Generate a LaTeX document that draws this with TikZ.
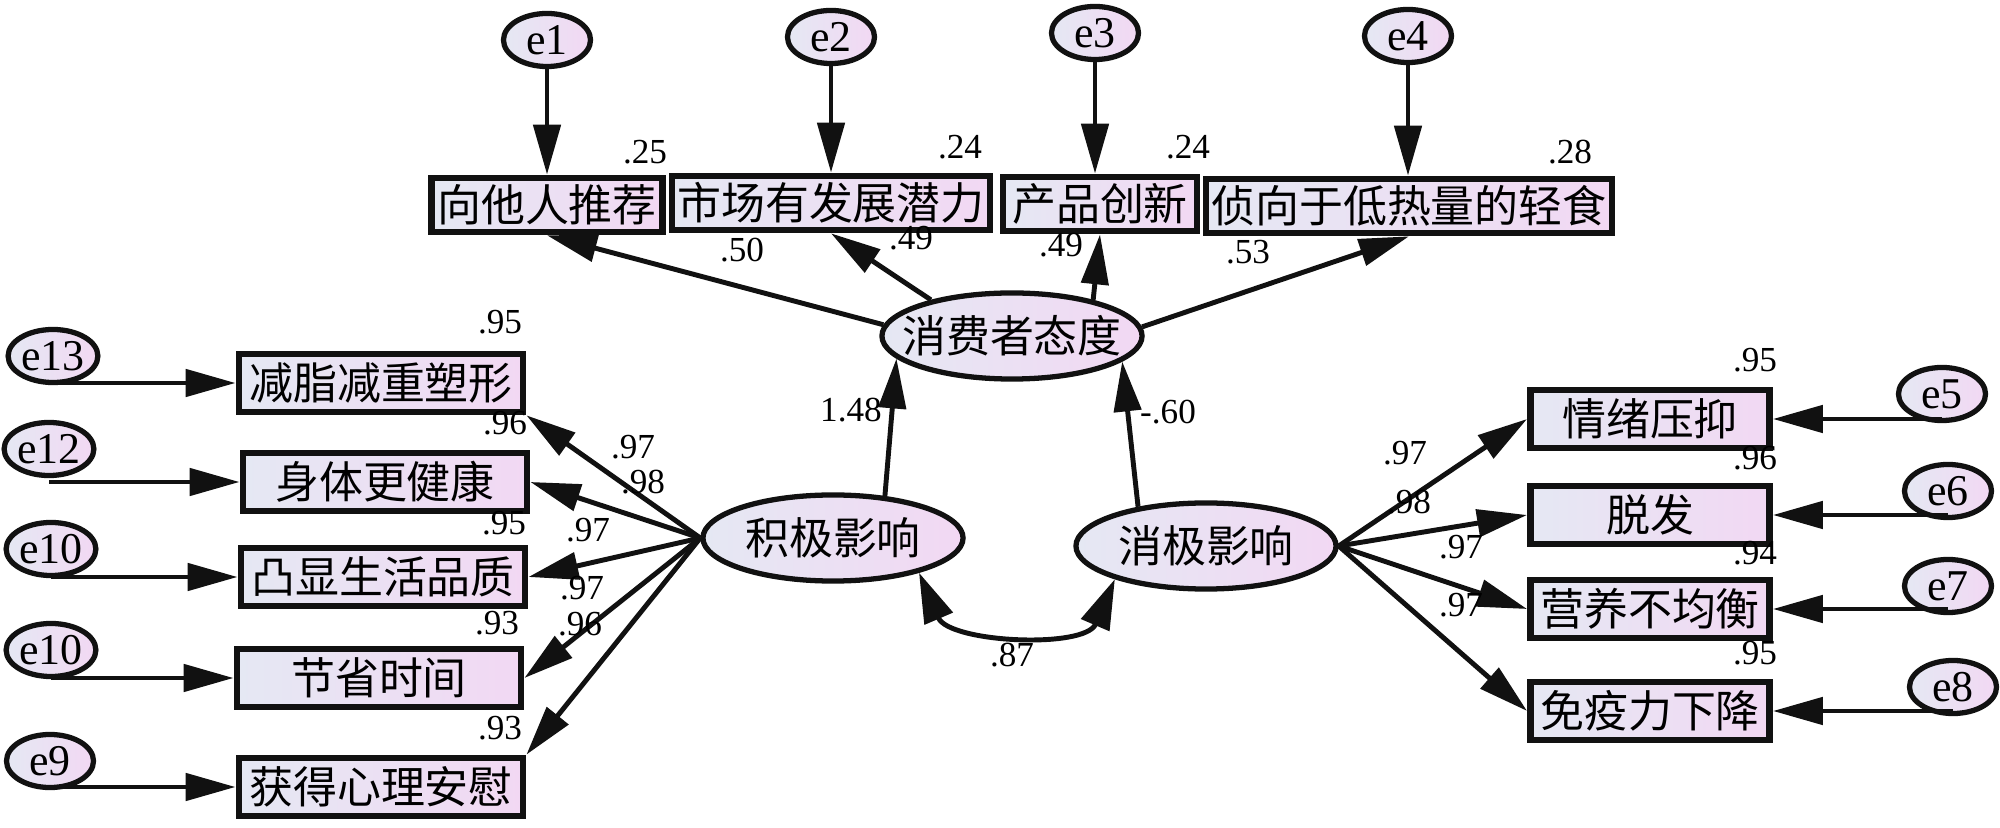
\documentclass[tikz,border=0pt]{standalone}
\usepackage{fontspec}
\setmainfont{Liberation Serif}
\newfontfamily\cjk{Noto Sans CJK SC}
\usepackage{tikz}
\usetikzlibrary{arrows.meta,shapes.geometric}
\definecolor{ink}{HTML}{111111}
\definecolor{fillL}{HTML}{E5E8F3}
\definecolor{fillR}{HTML}{F2D8F3}
\tikzset{
  obsbox/.style={draw=ink,line width=1.9pt,left color=fillL,right color=fillR,
                 inner xsep=1.5pt,inner ysep=0pt,minimum height=0.54cm,
                 font=\cjk\fontsize{12.5}{14}\selectfont},
  leftbox/.style={obsbox,minimum width=2.84cm,minimum height=0.58cm},
  rightbox/.style={obsbox,minimum width=2.39cm,minimum height=0.58cm},
  latent/.style={ellipse,draw=ink,line width=1.5pt,left color=fillL,right color=fillR,
                 minimum width=2.6cm,minimum height=0.86cm,inner xsep=-0.25cm,
                 inner ysep=0pt,font=\cjk\fontsize{12.5}{14}\selectfont},
  err/.style={ellipse,draw=ink,line width=1.5pt,left color=fillL,right color=fillR,
              minimum width=0.87cm,minimum height=0.53cm,inner sep=0pt,
              font=\rmfamily\fontsize{12.5}{14}\selectfont},
  fwd/.style={-{Triangle[length=5mm,width=2.7mm]},line width=1.4pt,draw=ink},
  corr/.style={{Triangle[length=5mm,width=3mm]}-{Triangle[length=5mm,width=3mm]},
               line width=1.4pt,draw=ink},
  coef/.style={font=\rmfamily\fontsize{10}{12}\selectfont,inner sep=0pt}
}
\begin{document}
\begin{tikzpicture}[x=0.01cm,y=-0.01cm]
  \path[use as bounding box] (0,0) rectangle (2000,828);

  % top indicators
  \node[obsbox] (t1) at (547,205) {向他人推荐};
  \node[obsbox] (t2) at (831,203) {市场有发展潜力};
  \node[obsbox,minimum width=1.94cm] (t3) at (1100,204) {产品创新};
  \node[obsbox] (t4) at (1409,206) {侦向于低热量的轻食};
  \node[err] (e1) at (547,40) {e1};
  \node[err] (e2) at (831,37) {e2};
  \node[err] (e3) at (1095,33) {e3};
  \node[err] (e4) at (1408,36) {e4};

  % left indicators
  \node[leftbox] (l1) at (381,383) {减脂减重塑形};
  \node[leftbox] (l2) at (385,482) {身体更健康};
  \node[leftbox] (l3) at (383,577) {凸显生活品质};
  \node[leftbox] (l4) at (379,678) {节省时间};
  \node[leftbox] (l5) at (381,787) {获得心理安慰};
  \node[err] (e13) at (53,356) {e13};
  \node[err] (e12) at (49,449) {e12};
  \node[err] (e10) at (51,549) {e10};
  \node[err] (e10b) at (51,650) {e10};
  \node[err] (e9) at (50,761) {e9};

  % right indicators
  \node[rightbox] (r1) at (1650,419) {情绪压抑};
  \node[rightbox] (r2) at (1650,515) {脱发};
  \node[rightbox] (r3) at (1650,609) {营养不均衡};
  \node[rightbox] (r4) at (1650,711) {免疫力下降};
  \node[err] (e5) at (1942,394) {e5};
  \node[err] (e6) at (1948,491) {e6};
  \node[err] (e7) at (1948,586) {e7};
  \node[err] (e8) at (1953,687) {e8};

  % latent variables
  \node[latent] (att) at (1012,336) {消费者态度};
  \node[latent] (pos) at (833,538) {积极影响};
  \node[latent] (neg) at (1206,546) {消极影响};

  \foreach \e/\t in {e1/t1,e2/t2,e3/t3,e4/t4}
    \draw[fwd] (\e) -- (\e |- \t.north);
  \foreach \e/\b in {e13/l1,e12/l2,e10/l3,e10b/l4,e9/l5}
    \draw[fwd] (\e.south |- \b.west) -- (\b.west);
  \foreach \e/\b in {e5/r1,e6/r2,e7/r3,e8/r4}
    \draw[fwd] (\e.south |- \b.east) -- (\b.east);

  \draw[fwd] (att.175) -- (t1.south);
  \draw[fwd] (att.156) -- (t2.south);
  \draw[fwd] (att.24) -- (t3.south);
  \draw[fwd] (att.4) -- (t4.south);

  \draw[fwd] (pos.west) -- (l1.south east);
  \draw[fwd] (pos.west) -- (l2.east);
  \draw[fwd] (pos.west) -- (l3.east);
  \draw[fwd] (pos.west) -- (l4.east);
  \draw[fwd] (pos.west) -- (l5.north east);
  \foreach \b in {r1,r2,r3,r4}
    \draw[fwd] (neg.east) -- (\b.west);

  \draw[fwd] (pos.39) -- (att.191);
  \draw[fwd] (neg.150) -- (att.-13);
  \draw[corr] (pos.-22) .. controls +(30,70) and +(-30,70) .. (neg.-160);

  % coefficients
  \foreach \x/\y/\v [count=\i] in {645/152/.25,960/147/.24,1188/147/.24,1570/152/.28,
      742/250/.50,911/238/.49,1061/245/.49,1248/252/.53,
      851/410/1.48,1168/412/-.60,1012/655/.87,
      500/322/.95,505/423/.96,633/447/.97,643/482/.98,504/523/.95,
      588/530/.97,582/588/.97,497/623/.93,580/624/.96,500/728/.93,
      1755/360/.95,1755/458/.96,1755/553/.94,1755/653/.95,
      1405/453/.97,1409/502/.98,1461/547/.97,1461/605/.97}
    \node[coef] (c\i) at (\x,\y) {\v};
\end{tikzpicture}
\end{document}
